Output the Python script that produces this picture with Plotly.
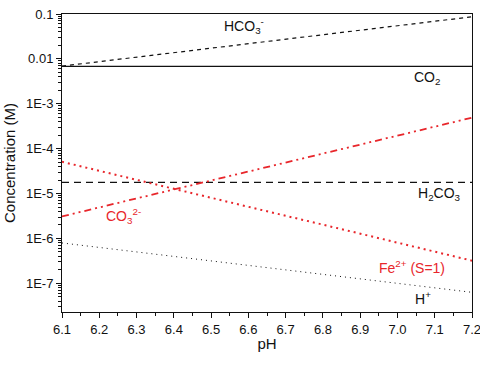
import plotly.graph_objects as go
import math

pH = [6.1, 6.2, 6.3, 6.4, 6.5, 6.6, 6.7, 6.8, 6.9, 7.0, 7.1, 7.2]
hco3 = [0.0069, 0.0087, 0.0109, 0.0137, 0.0173, 0.0218, 0.0274, 0.0345, 0.0435, 0.0547, 0.0689, 0.0867]
co2 = [0.0068] * 12
h2co3 = [1.78e-5] * 12
co3 = [3.1e-6, 4.9e-6, 7.8e-6, 1.23e-5, 1.96e-5, 3.1e-5, 4.9e-5, 7.8e-5, 1.23e-4, 1.96e-4, 3.1e-4, 4.9e-4]
fe = [5.1e-5, 3.2e-5, 2.03e-5, 1.28e-5, 8.1e-6, 5.1e-6, 3.2e-6, 2.03e-6, 1.28e-6, 8.1e-7, 5.1e-7, 3.2e-7]
hplus = [7.94e-7, 6.31e-7, 5.01e-7, 3.98e-7, 3.16e-7, 2.51e-7, 2.00e-7, 1.58e-7, 1.26e-7, 1.00e-7, 7.94e-8, 6.31e-8]

xtickvals = [6.1, 6.2, 6.3, 6.4, 6.5, 6.6, 6.7, 6.8, 6.9, 7.0, 7.1, 7.2]
xticktext = ["6.1", "6.2", "6.3", "6.4", "6.5", "6.6", "6.7", "6.8", "6.9", "7.0", "7.1", "7.2"]
ytickvals = [1e-7, 1e-6, 1e-5, 1e-4, 1e-3, 1e-2, 1e-1]
yticktext = ["1E-7", "1E-6", "1E-5", "1E-4", "1E-3", "0.01", "0.1"]

RED = "#e8262b"
BLACK = "#111111"
FONT = "Liberation Sans, Arial, sans-serif"

fig = go.Figure()
def add(y, color, dash, width):
    fig.add_trace(go.Scatter(x=pH, y=y, mode="lines", line=dict(color=color, dash=dash, width=width),
                             showlegend=False, hoverinfo="skip", cliponaxis=False))

add(hco3, BLACK, "4px,4px", 1.2)
add(co2, BLACK, "solid", 1.2)
add(h2co3, BLACK, "7px,5px", 1.2)
add(co3, RED, "7px,4px,2px,4px,2px,4px", 1.8)
add(fe, RED, "2px,4px", 2)
add(hplus, BLACK, "1px,4px", 1)

minor_y = []
for d in range(-8, -1):
    for m in range(2, 10):
        v = m * 10 ** d
        if 2.3e-8 <= v <= 0.1:
            minor_y.append(v)
minor_x = [6.15, 6.25, 6.35, 6.45, 6.55, 6.65, 6.75, 6.85, 6.95, 7.05, 7.15]

annots = [
    (6.588, -1.26, "HCO<sub>3</sub><sup>-</sup>", BLACK),
    (7.08, -2.43, "CO<sub>2</sub>", BLACK),
    (7.113, -5.0, "H<sub>2</sub>CO<sub>3</sub>", BLACK),
    (6.265, -5.5, "CO<sub>3</sub><sup>2-</sup>", RED),
    (7.039, -6.63, "Fe<sup>2+</sup> (S=1)", RED),
    (7.068, -7.33, "H<sup>+</sup>", BLACK),
]
for x, y, t, c in annots:
    fig.add_annotation(x=x, y=y, text=t, showarrow=False, font=dict(size=14, color=c, family=FONT))

fig.update_layout(
    width=480, height=368,
    margin=dict(l=62, r=7, t=10, b=56),
    paper_bgcolor="white", plot_bgcolor="white",
    font=dict(family=FONT, size=13, color=BLACK),
    xaxis=dict(range=[6.1, 7.2], tickmode="array", tickvals=xtickvals, ticktext=xticktext,
               ticklabeloverflow="allow", automargin=False,
               ticks="outside", ticklen=5, tickwidth=1, tickcolor=BLACK,
               minor=dict(ticks="outside", ticklen=3, tickmode="array", tickvals=minor_x, tickcolor=BLACK),
               showline=True, linecolor=BLACK, linewidth=1, mirror=True, showgrid=False, zeroline=False,
               title=dict(text="pH", font=dict(size=15), standoff=2)),
    yaxis=dict(type="log", range=[math.log10(2.3e-8), -1], tickmode="array", tickvals=ytickvals,
               ticktext=yticktext, ticks="outside", ticklen=5, tickwidth=1, tickcolor=BLACK,
               minor=dict(ticks="outside", ticklen=3, tickmode="array", tickvals=minor_y, tickcolor=BLACK),
               showline=True, linecolor=BLACK, linewidth=1, mirror=True, showgrid=False, zeroline=False,
               title=dict(text="Concentration (M)", font=dict(size=15), standoff=6)),
)

fig.write_html("out.html")
